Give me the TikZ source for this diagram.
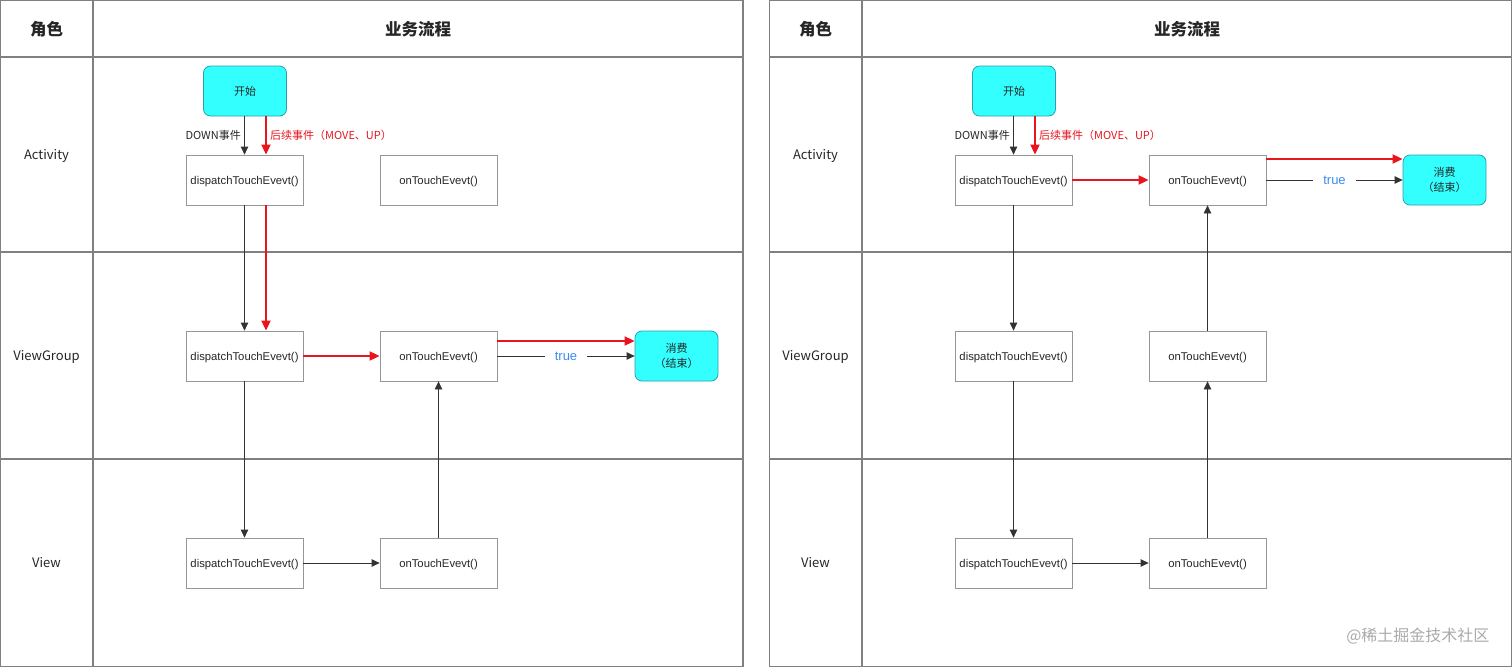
\documentclass[tikz,border=0pt]{standalone}
\usepackage{fontspec}
\setmainfont{Liberation Sans}
\newfontfamily\cjk{Noto Sans CJK SC}
\usetikzlibrary{arrows.meta}
\definecolor{gridgray}{RGB}{128,128,128}
\definecolor{boxgray}{RGB}{150,150,150}
\definecolor{cyanfill}{RGB}{51,255,255}
\definecolor{cyanedge}{RGB}{40,160,175}
\definecolor{redline}{RGB}{232,20,30}
\definecolor{trueblue}{RGB}{60,140,240}
\definecolor{marktext}{RGB}{170,170,170}
\tikzset{
  grid/.style={draw=gridgray, line width=1.4pt},
  fnbox/.style={draw=boxgray, line width=0.8pt, minimum width=117pt, minimum height=50pt, inner sep=0pt, text height=11pt, text depth=2.5pt, font=\fontsize{11.3}{13}\selectfont, text=black!85},
  term/.style={draw=cyanedge, fill=cyanfill, rounded corners=7pt, line width=0.8pt, minimum width=83pt, minimum height=50pt, inner sep=0pt, align=center, font=\cjk\fontsize{11}{15}\selectfont, text=black!85},
  head/.style={font=\cjk\bfseries\fontsize{16.5}{18}\selectfont, text=black!85},
  role/.style={font=\cjk\fontsize{13}{15}\selectfont, text=black!85, text height=12.5pt, text depth=3pt},
  blk/.style={draw=black!80, line width=0.8pt, -{Triangle[length=8pt,width=7.5pt]}},
  red/.style={draw=redline, line width=1.8pt, -{Triangle[length=10pt,width=9pt]}},
  lab/.style={font=\cjk\fontsize{11}{13}\selectfont, inner sep=0pt},
  truelab/.style={font=\fontsize{13}{15}\selectfont, text=trueblue, fill=white, inner xsep=10pt, inner ysep=2pt}
}
\begin{document}
\begin{tikzpicture}[x=1pt,y=-1pt]
\useasboundingbox (0,0) rectangle (1512,667);
% ---------- left panel grid ----------
\draw[grid] (0.7,0.7) rectangle (742.8,666.3);
\draw[grid] (93,0.7) -- (93,666.3);
\draw[grid] (0.7,57) -- (742.8,57);
\draw[grid] (0.7,252) -- (742.8,252);
\draw[grid] (0.7,459) -- (742.8,459);
\node[head] (Lh1) at (46.5,29) {角色};
\node[head] (Lh2) at (418,29) {业务流程};
\node[role] (Lr1) at (46.5,155) {Activity};
\node[role] (Lr2) at (46.5,356) {ViewGroup};
\node[role] (Lr3) at (46.5,563) {View};
% nodes
\node[term] (Ls) at (245,91) {开始};
\node[fnbox] (Lad) at (244.5,180) {dispatchTouchEvevt()};
\node[fnbox] (Lao) at (438.5,180) {onTouchEvevt()};
\node[fnbox] (Lgd) at (244.5,356) {dispatchTouchEvevt()};
\node[fnbox] (Lgo) at (438.5,356) {onTouchEvevt()};
\node[term] (Lx) at (676.5,356) {消费\\（结束）};
\node[fnbox] (Lvd) at (244.5,563) {dispatchTouchEvevt()};
\node[fnbox] (Lvo) at (438.5,563) {onTouchEvevt()};
% connectors
\draw[blk] (Ls.south -| Lad.north) -- (Lad.north);
\draw[red] ([xshift=21.5pt]Lad.north |- Ls.south) -- ([xshift=21.5pt]Lad.north);
\node[lab, anchor=east, text=black!85] (Ll1) at (241,135) {DOWN事件};
\node[lab, anchor=west, text=redline] (Ll2) at (270,135) {后续事件（MOVE、UP）};
\draw[blk] (Lad.south) -- (Lgd.north);
\draw[red] ([xshift=21.5pt]Lad.south) -- ([xshift=21.5pt]Lgd.north);
\draw[red] (Lgd.east) -- (Lgo.west);
\draw[red] ([yshift=15pt]Lgo.east) -- ([yshift=15pt]Lx.west);
\draw[blk] (Lgo.east) -- node[truelab] (Lt) {true} (Lx.west);
\draw[blk] (Lgd.south) -- (Lvd.north);
\draw[blk] (Lvd.east) -- (Lvo.west);
\draw[blk] (Lvo.north) -- (Lgo.south);
% ---------- right panel grid ----------
\draw[grid] (769.7,0.7) rectangle (1511.3,666.3);
\draw[grid] (862,0.7) -- (862,666.3);
\draw[grid] (769.7,57) -- (1511.3,57);
\draw[grid] (769.7,252) -- (1511.3,252);
\draw[grid] (769.7,459) -- (1511.3,459);
\node[head] (Rh1) at (815.5,29) {角色};
\node[head] (Rh2) at (1187,29) {业务流程};
\node[role] (Rr1) at (815.5,155) {Activity};
\node[role] (Rr2) at (815.5,356) {ViewGroup};
\node[role] (Rr3) at (815.5,563) {View};
\node[term] (Rs) at (1014,91) {开始};
\node[fnbox] (Rad) at (1013.5,180) {dispatchTouchEvevt()};
\node[fnbox] (Rao) at (1207.5,180) {onTouchEvevt()};
\node[term] (Rx) at (1444.5,180) {消费\\（结束）};
\node[fnbox] (Rgd) at (1013.5,356) {dispatchTouchEvevt()};
\node[fnbox] (Rgo) at (1207.5,356) {onTouchEvevt()};
\node[fnbox] (Rvd) at (1013.5,563) {dispatchTouchEvevt()};
\node[fnbox] (Rvo) at (1207.5,563) {onTouchEvevt()};
\draw[blk] (Rs.south -| Rad.north) -- (Rad.north);
\draw[red] ([xshift=21.5pt]Rad.north |- Rs.south) -- ([xshift=21.5pt]Rad.north);
\node[lab, anchor=east, text=black!85] (Rl1) at (1010,135) {DOWN事件};
\node[lab, anchor=west, text=redline] (Rl2) at (1039,135) {后续事件（MOVE、UP）};
\draw[red] (Rad.east) -- (Rao.west);
\draw[red] ([yshift=21pt]Rao.east) -- ([yshift=21pt]Rx.west);
\draw[blk] (Rao.east) -- node[truelab] (Rt) {true} (Rx.west);
\draw[blk] (Rad.south) -- (Rgd.north);
\draw[blk] (Rgd.south) -- (Rvd.north);
\draw[blk] (Rvd.east) -- (Rvo.west);
\draw[blk] (Rvo.north) -- (Rgo.south);
\draw[blk] (Rgo.north) -- (Rao.south);
\node[font=\cjk\fontsize{16}{18}\selectfont, text=marktext, anchor=east] (wm) at (1493,636) {@稀土掘金技术社区};
\end{tikzpicture}
\end{document}
